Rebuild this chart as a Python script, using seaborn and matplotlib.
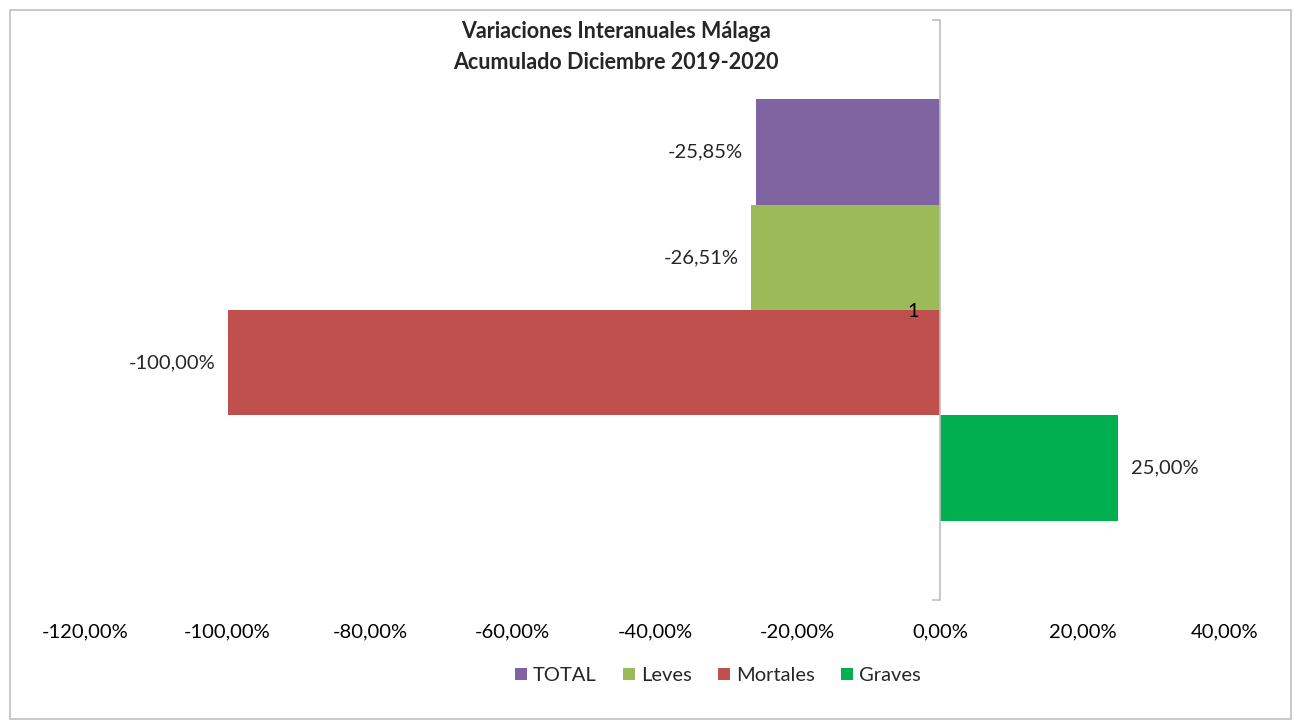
import pandas as pd
import seaborn as sns
import matplotlib.pyplot as plt
from matplotlib.patches import Rectangle
from matplotlib.ticker import FuncFormatter

categoria = ['1', '1', '1', '1']
series = ['TOTAL', 'Leves', 'Mortales', 'Graves']
valores = [-0.2585, -0.2651, -1.00, 0.25]
etiquetas = ['-25,85%', '-26,51%', '-100,00%', '25,00%']
colores = ['#8064A2', '#9BBB59', '#C0504D', '#00B050']

df = pd.DataFrame({'cat': categoria, 'serie': series, 'valor': valores})

sns.set_style('white')
plt.rcParams['font.family'] = ['Lato', 'DejaVu Sans']

fig = plt.figure(figsize=(12.94, 7.23), dpi=100)
ax = fig.add_axes([0.0657, 0.170, 0.881, 0.8023])

sns.barplot(data=df, x='valor', y='cat', hue='serie', hue_order=series,
            palette=colores, orient='h', width=0.726, saturation=1,
            linewidth=0, legend=True, ax=ax)

ax.set_axisbelow(False)
ax.set_xlim(-1.2, 0.4)
ax.set_ylim(0.5, -0.5)
ax.set_xticks([-1.2, -1.0, -0.8, -0.6, -0.4, -0.2, 0.0, 0.2, 0.4])
ax.xaxis.set_major_formatter(FuncFormatter(lambda v, p: f'{v * 100:.2f}%'.replace('.', ',')))
ax.tick_params(axis='x', length=0, labelsize=14.5, pad=17, colors='black')

# eje vertical en el cero
for s in ['top', 'right', 'bottom']:
    ax.spines[s].set_visible(False)
ax.spines['left'].set_position(('data', 0))
ax.spines['left'].set_color('#BFBFBF')
ax.spines['left'].set_linewidth(1.2)
ax.set_yticks([0])
ax.set_yticklabels(['1'])
ax.tick_params(axis='y', which='major', left=True, length=0, labelsize=14.5, pad=15, colors='black')
ax.set_yticks([-0.5, 0.5], minor=True)
ax.tick_params(axis='y', which='minor', left=True, length=6, width=1.2, color='#BFBFBF', direction='out')
ax.set_xlabel('')
ax.set_ylabel('')

for bar, txt in zip(ax.patches, etiquetas):
    w = bar.get_width()
    yc = bar.get_y() + bar.get_height() / 2
    if w < 0:
        ax.annotate(txt, (w, yc), xytext=(-9, 0), textcoords='offset points',
                    ha='right', va='center', fontsize=14.5)
    else:
        ax.annotate(txt, (w, yc), xytext=(9, 0), textcoords='offset points',
                    ha='left', va='center', fontsize=14.5)

fig.text(0.476, 0.935, 'Variaciones Interanuales Málaga\nAcumulado Diciembre 2019-2020',
         ha='center', va='center', fontsize=15.5, fontweight='bold', linespacing=1.55)

ax.legend(loc='center', bbox_to_anchor=(0.555, -0.13), ncol=4, frameon=False,
          fontsize=14.5, handlelength=0.6, handleheight=0.6, handletextpad=0.3,
          columnspacing=1.3)

fig.patches.append(Rectangle((0.008, 0.005), 0.99, 0.981, transform=fig.transFigure,
                             fill=False, edgecolor='#BFBFBF', linewidth=1.2))

fig.savefig('out.png', dpi=100)
